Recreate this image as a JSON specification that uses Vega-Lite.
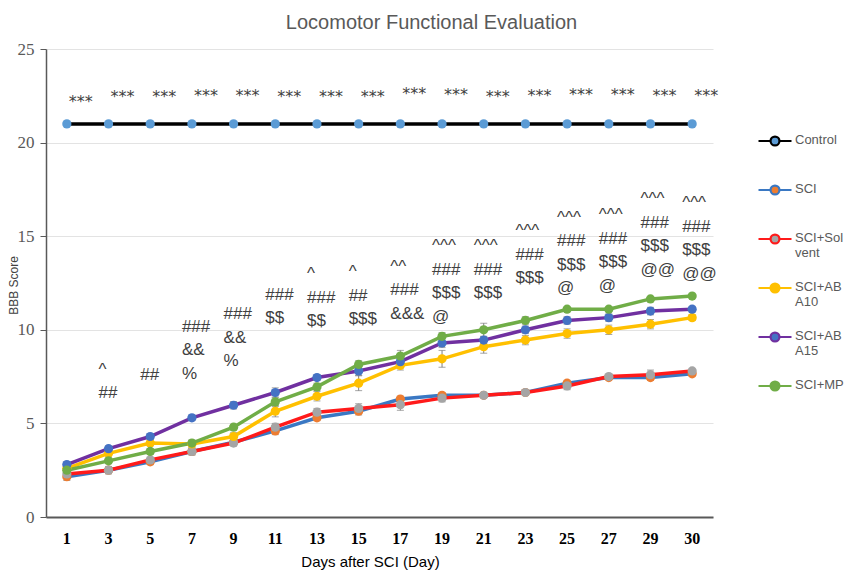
{
  "$schema": "https://vega.github.io/schema/vega-lite/v6.json",
  "width": 667,
  "height": 468,
  "autosize": {"type": "none"},
  "padding": {"left": 46, "top": 49, "right": 132, "bottom": 54},
  "background": "white",
  "config": {"view": {"stroke": null}},
  "title": {"text": "Locomotor Functional Evaluation", "font": "Liberation Sans", "fontSize": 20, "fontWeight": "normal", "color": "#595959", "anchor": "middle", "dx": 52, "offset": 7},
  "datasets": {
    "scores": [
      {"day": 1, "group": "Control", "bbb": 21, "err": 0}, {"day": 3, "group": "Control", "bbb": 21, "err": 0}, {"day": 5, "group": "Control", "bbb": 21, "err": 0}, {"day": 7, "group": "Control", "bbb": 21, "err": 0}, {"day": 9, "group": "Control", "bbb": 21, "err": 0}, {"day": 11, "group": "Control", "bbb": 21, "err": 0}, {"day": 13, "group": "Control", "bbb": 21, "err": 0}, {"day": 15, "group": "Control", "bbb": 21, "err": 0}, {"day": 17, "group": "Control", "bbb": 21, "err": 0}, {"day": 19, "group": "Control", "bbb": 21, "err": 0}, {"day": 21, "group": "Control", "bbb": 21, "err": 0}, {"day": 23, "group": "Control", "bbb": 21, "err": 0}, {"day": 25, "group": "Control", "bbb": 21, "err": 0}, {"day": 27, "group": "Control", "bbb": 21, "err": 0}, {"day": 29, "group": "Control", "bbb": 21, "err": 0}, {"day": 30, "group": "Control", "bbb": 21, "err": 0},
      {"day": 1, "group": "SCI", "bbb": 2.15, "err": 0.2}, {"day": 3, "group": "SCI", "bbb": 2.5, "err": 0.15}, {"day": 5, "group": "SCI", "bbb": 2.95, "err": 0.15}, {"day": 7, "group": "SCI", "bbb": 3.5, "err": 0.15}, {"day": 9, "group": "SCI", "bbb": 4.0, "err": 0.15}, {"day": 11, "group": "SCI", "bbb": 4.6, "err": 0.2}, {"day": 13, "group": "SCI", "bbb": 5.3, "err": 0.15}, {"day": 15, "group": "SCI", "bbb": 5.65, "err": 0.2}, {"day": 17, "group": "SCI", "bbb": 6.3, "err": 0.15}, {"day": 19, "group": "SCI", "bbb": 6.5, "err": 0.15}, {"day": 21, "group": "SCI", "bbb": 6.5, "err": 0.1}, {"day": 23, "group": "SCI", "bbb": 6.65, "err": 0.1}, {"day": 25, "group": "SCI", "bbb": 7.15, "err": 0.15}, {"day": 27, "group": "SCI", "bbb": 7.45, "err": 0.1}, {"day": 29, "group": "SCI", "bbb": 7.45, "err": 0.15}, {"day": 30, "group": "SCI", "bbb": 7.65, "err": 0.1},
      {"day": 1, "group": "SCI+Solvent", "bbb": 2.3, "err": 0.2}, {"day": 3, "group": "SCI+Solvent", "bbb": 2.5, "err": 0.2}, {"day": 5, "group": "SCI+Solvent", "bbb": 3.05, "err": 0.15}, {"day": 7, "group": "SCI+Solvent", "bbb": 3.5, "err": 0.2}, {"day": 9, "group": "SCI+Solvent", "bbb": 3.95, "err": 0.15}, {"day": 11, "group": "SCI+Solvent", "bbb": 4.8, "err": 0.2}, {"day": 13, "group": "SCI+Solvent", "bbb": 5.6, "err": 0.2}, {"day": 15, "group": "SCI+Solvent", "bbb": 5.8, "err": 0.25}, {"day": 17, "group": "SCI+Solvent", "bbb": 6.0, "err": 0.3}, {"day": 19, "group": "SCI+Solvent", "bbb": 6.35, "err": 0.2}, {"day": 21, "group": "SCI+Solvent", "bbb": 6.5, "err": 0.1}, {"day": 23, "group": "SCI+Solvent", "bbb": 6.65, "err": 0.1}, {"day": 25, "group": "SCI+Solvent", "bbb": 7.0, "err": 0.2}, {"day": 27, "group": "SCI+Solvent", "bbb": 7.5, "err": 0.1}, {"day": 29, "group": "SCI+Solvent", "bbb": 7.6, "err": 0.25}, {"day": 30, "group": "SCI+Solvent", "bbb": 7.8, "err": 0.1},
      {"day": 1, "group": "SCI+ABA10", "bbb": 2.6, "err": 0.2}, {"day": 3, "group": "SCI+ABA10", "bbb": 3.4, "err": 0.15}, {"day": 5, "group": "SCI+ABA10", "bbb": 3.95, "err": 0.15}, {"day": 7, "group": "SCI+ABA10", "bbb": 3.9, "err": 0.2}, {"day": 9, "group": "SCI+ABA10", "bbb": 4.3, "err": 0.2}, {"day": 11, "group": "SCI+ABA10", "bbb": 5.65, "err": 0.3}, {"day": 13, "group": "SCI+ABA10", "bbb": 6.45, "err": 0.25}, {"day": 15, "group": "SCI+ABA10", "bbb": 7.15, "err": 0.4}, {"day": 17, "group": "SCI+ABA10", "bbb": 8.1, "err": 0.25}, {"day": 19, "group": "SCI+ABA10", "bbb": 8.45, "err": 0.45}, {"day": 21, "group": "SCI+ABA10", "bbb": 9.1, "err": 0.35}, {"day": 23, "group": "SCI+ABA10", "bbb": 9.45, "err": 0.25}, {"day": 25, "group": "SCI+ABA10", "bbb": 9.8, "err": 0.25}, {"day": 27, "group": "SCI+ABA10", "bbb": 10.0, "err": 0.25}, {"day": 29, "group": "SCI+ABA10", "bbb": 10.3, "err": 0.25}, {"day": 30, "group": "SCI+ABA10", "bbb": 10.65, "err": 0.15},
      {"day": 1, "group": "SCI+ABA15", "bbb": 2.8, "err": 0.15}, {"day": 3, "group": "SCI+ABA15", "bbb": 3.65, "err": 0.15}, {"day": 5, "group": "SCI+ABA15", "bbb": 4.3, "err": 0.15}, {"day": 7, "group": "SCI+ABA15", "bbb": 5.3, "err": 0.15}, {"day": 9, "group": "SCI+ABA15", "bbb": 5.97, "err": 0.2}, {"day": 11, "group": "SCI+ABA15", "bbb": 6.65, "err": 0.25}, {"day": 13, "group": "SCI+ABA15", "bbb": 7.45, "err": 0.15}, {"day": 15, "group": "SCI+ABA15", "bbb": 7.8, "err": 0.25}, {"day": 17, "group": "SCI+ABA15", "bbb": 8.3, "err": 0.2}, {"day": 19, "group": "SCI+ABA15", "bbb": 9.3, "err": 0.25}, {"day": 21, "group": "SCI+ABA15", "bbb": 9.45, "err": 0.2}, {"day": 23, "group": "SCI+ABA15", "bbb": 10.0, "err": 0.2}, {"day": 25, "group": "SCI+ABA15", "bbb": 10.5, "err": 0.2}, {"day": 27, "group": "SCI+ABA15", "bbb": 10.65, "err": 0.2}, {"day": 29, "group": "SCI+ABA15", "bbb": 11.0, "err": 0.2}, {"day": 30, "group": "SCI+ABA15", "bbb": 11.1, "err": 0.15},
      {"day": 1, "group": "SCI+MP", "bbb": 2.5, "err": 0.15}, {"day": 3, "group": "SCI+MP", "bbb": 3.0, "err": 0.15}, {"day": 5, "group": "SCI+MP", "bbb": 3.5, "err": 0.15}, {"day": 7, "group": "SCI+MP", "bbb": 3.95, "err": 0.15}, {"day": 9, "group": "SCI+MP", "bbb": 4.8, "err": 0.15}, {"day": 11, "group": "SCI+MP", "bbb": 6.15, "err": 0.25}, {"day": 13, "group": "SCI+MP", "bbb": 6.95, "err": 0.2}, {"day": 15, "group": "SCI+MP", "bbb": 8.15, "err": 0.2}, {"day": 17, "group": "SCI+MP", "bbb": 8.6, "err": 0.3}, {"day": 19, "group": "SCI+MP", "bbb": 9.65, "err": 0.2}, {"day": 21, "group": "SCI+MP", "bbb": 10.0, "err": 0.35}, {"day": 23, "group": "SCI+MP", "bbb": 10.5, "err": 0.2}, {"day": 25, "group": "SCI+MP", "bbb": 11.1, "err": 0.1}, {"day": 27, "group": "SCI+MP", "bbb": 11.1, "err": 0.1}, {"day": 29, "group": "SCI+MP", "bbb": 11.65, "err": 0.1}, {"day": 30, "group": "SCI+MP", "bbb": 11.8, "err": 0.1}
    ],
    "stacks": [
      {"day": 3, "bbb": 8.3, "label": "^\n##"},
      {"day": 5, "bbb": 8.0, "label": "##"},
      {"day": 7, "bbb": 10.6, "label": "###\n&&\n%"},
      {"day": 9, "bbb": 11.25, "label": "###\n&&\n%"},
      {"day": 11, "bbb": 12.3, "label": "###\n$$"},
      {"day": 13, "bbb": 13.4, "label": "^\n###\n$$"},
      {"day": 15, "bbb": 13.5, "label": "^\n##\n$$$"},
      {"day": 17, "bbb": 13.8, "label": "^^\n###\n&&&"},
      {"day": 19, "bbb": 14.9, "label": "^^^\n###\n$$$\n@"},
      {"day": 21, "bbb": 14.9, "label": "^^^\n###\n$$$"},
      {"day": 23, "bbb": 15.7, "label": "^^^\n###\n$$$"},
      {"day": 25, "bbb": 16.4, "label": "^^^\n###\n$$$\n@"},
      {"day": 27, "bbb": 16.55, "label": "^^^\n###\n$$$\n@"},
      {"day": 29, "bbb": 17.4, "label": "^^^\n###\n$$$\n@@"},
      {"day": 30, "bbb": 17.2, "label": "^^^\n###\n$$$\n@@"}
    ],
    "stars": [
      {"day": 1, "bbb": 22.18, "label": "***"}, {"day": 3, "bbb": 22.45, "label": "***"}, {"day": 5, "bbb": 22.44, "label": "***"}, {"day": 7, "bbb": 22.5, "label": "***"}, {"day": 9, "bbb": 22.5, "label": "***"}, {"day": 11, "bbb": 22.42, "label": "***"}, {"day": 13, "bbb": 22.45, "label": "***"}, {"day": 15, "bbb": 22.45, "label": "***"}, {"day": 17, "bbb": 22.6, "label": "***"}, {"day": 19, "bbb": 22.55, "label": "***"}, {"day": 21, "bbb": 22.45, "label": "***"}, {"day": 23, "bbb": 22.5, "label": "***"}, {"day": 25, "bbb": 22.54, "label": "***"}, {"day": 27, "bbb": 22.56, "label": "***"}, {"day": 29, "bbb": 22.48, "label": "***"}, {"day": 30, "bbb": 22.5, "label": "***"}
    ]
  },
  "encoding": {
    "x": {"field": "day", "type": "ordinal", "title": "Days after SCI (Day)",
      "axis": {"labelAngle": 0, "labelFont": "Liberation Serif", "labelFontWeight": "bold", "labelFontSize": 16, "labelColor": "#000000", "labelPadding": 13, "ticks": false, "domainColor": "#595959", "domainWidth": 2, "titleFont": "Liberation Sans", "titleFontSize": 15, "titleFontWeight": "normal", "titleColor": "#000000", "titlePadding": 8, "titleX": 324}},
    "y": {"field": "bbb", "type": "quantitative", "title": "BBB Score",
      "scale": {"domain": [0, 25], "nice": false},
      "axis": {"values": [0, 5, 10, 15, 20, 25], "labelFont": "Liberation Serif", "labelFontSize": 17, "labelColor": "#595959", "labelPadding": 6, "tickSize": 6, "tickColor": "#595959", "domainColor": "#595959", "domainWidth": 1.5, "gridColor": "#e3e3e3", "gridWidth": 1, "titleFont": "Liberation Sans", "titleFontSize": 12, "titleFontWeight": "normal", "titleColor": "#404040", "titleX": -33, "titleY": 236, "titleAlign": "center", "titleBaseline": "middle", "titleAngle": -90}}
  },
  "layer": [
    {
      "data": {"name": "scores"},
      "mark": {"type": "line", "strokeWidth": 3.5},
      "encoding": {
        "stroke": {"field": "group", "type": "nominal",
          "scale": {"domain": ["Control", "SCI", "SCI+Solvent", "SCI+ABA10", "SCI+ABA15", "SCI+MP"], "range": ["#000000", "#3A78C3", "#FF1A1A", "#FFC000", "#7030A0", "#70AD47"]},
          "legend": {"orient": "none", "legendX": 711, "legendY": 70, "title": null, "clipHeight": 44, "symbolType": "M-1,0L-0.3,0M0.3,0L1,0M0.27,0A0.27,0.27,0,1,1,-0.27,0A0.27,0.27,0,1,1,0.27,0Z", "symbolSize": 1089, "symbolStrokeWidth": 2.2, "symbolOpacity": 1, "labelFont": "Liberation Sans", "labelFontSize": 13, "labelColor": "#595959", "labelOffset": 2, "labelBaseline": "top", "rowPadding": 5,
            "labelExpr": "datum.label == 'SCI+Solvent' ? ['SCI+Sol','vent'] : datum.label == 'SCI+ABA10' ? ['SCI+AB','A10'] : datum.label == 'SCI+ABA15' ? ['SCI+AB','A15'] : datum.label",
            "encode": {"labels": {"update": {"dy": {"value": -7}}}}}}
      }
    },
    {
      "data": {"name": "scores"},
      "mark": {"type": "errorbar", "color": "#7f7f7f", "thickness": 1, "ticks": {"size": 7}},
      "encoding": {"yError": {"field": "err"}}
    },
    {
      "data": {"name": "scores"},
      "mark": {"type": "point", "filled": true, "size": 85, "opacity": 1},
      "encoding": {
        "fill": {"field": "group", "type": "nominal",
          "scale": {"domain": ["Control", "SCI", "SCI+Solvent", "SCI+ABA10", "SCI+ABA15", "SCI+MP"], "range": ["#5B9BD5", "#ED7D31", "#A5A5A5", "#FFC000", "#4472C4", "#70AD47"]},
          "legend": {"orient": "none", "legendX": 711, "legendY": 70, "title": null, "clipHeight": 44, "symbolType": "M-1,0L-0.3,0M0.3,0L1,0M0.27,0A0.27,0.27,0,1,1,-0.27,0A0.27,0.27,0,1,1,0.27,0Z", "symbolSize": 1089, "symbolStrokeWidth": 2.2, "symbolOpacity": 1, "labelFont": "Liberation Sans", "labelFontSize": 13, "labelColor": "#595959", "labelOffset": 2, "labelBaseline": "top", "rowPadding": 5,
            "labelExpr": "datum.label == 'SCI+Solvent' ? ['SCI+Sol','vent'] : datum.label == 'SCI+ABA10' ? ['SCI+AB','A10'] : datum.label == 'SCI+ABA15' ? ['SCI+AB','A15'] : datum.label",
            "encode": {"labels": {"update": {"dy": {"value": -7}}}}}}
      }
    },
    {
      "data": {"name": "stacks"},
      "mark": {"type": "text", "align": "left", "baseline": "top", "lineBreak": "\n", "lineHeight": 23.5, "font": "Liberation Sans", "fontSize": 17, "color": "#404040", "dx": -10},
      "encoding": {"text": {"field": "label"}}
    },
    {
      "data": {"name": "stars"},
      "mark": {"type": "text", "align": "left", "baseline": "middle", "font": "DejaVu Sans", "fontSize": 16, "color": "#404040", "dx": 2},
      "encoding": {"text": {"field": "label"}}
    }
  ]
}
